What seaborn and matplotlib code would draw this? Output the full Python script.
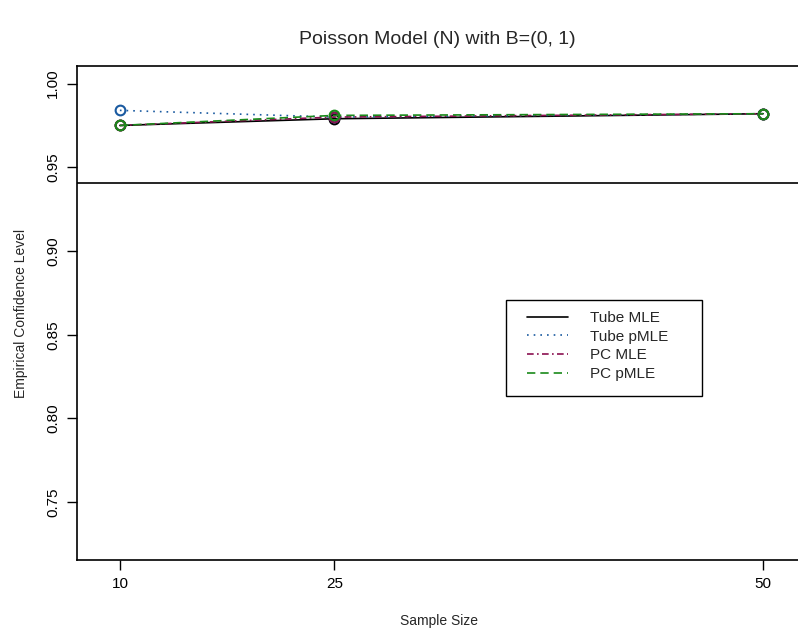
import matplotlib
matplotlib.use("Agg")
import matplotlib.pyplot as plt
from matplotlib.lines import Line2D
from matplotlib.patches import Rectangle
from matplotlib.legend_handler import HandlerLine2D
import seaborn as sns
import pandas as pd

# ---- data ----
sample_sizes = ["10", "25", "50"]
x_positions = [1, 2, 4]
tube_mle = [0.975, 0.979, 0.982]
tube_pmle = [0.984, 0.980, 0.982]
pc_mle = [0.975, 0.980, 0.982]
pc_pmle = [0.975, 0.981, 0.982]
nominal_level = 0.9405
y_ticks = [0.75, 0.80, 0.85, 0.90, 0.95, 1.00]

series = [
    ("Tube MLE", tube_mle, "black", "-"),
    ("Tube pMLE", tube_pmle, "#1a5aa0", (0, (1, 3))),
    ("PC MLE", pc_mle, "#8b1050", (0, (4, 2, 1, 2))),
    ("PC pMLE", pc_pmle, "#1a8a1a", (0, (5, 3))),
]

sns.set_style("ticks")
plt.rcParams["font.family"] = ["Liberation Sans", "DejaVu Sans"]

fig = plt.figure(figsize=(7.98, 6.29), dpi=100)
ax = fig.add_axes([77 / 798, 69 / 629, 723 / 798, 494 / 629])

handles = []
for name, vals, col, ls in series:
    df = pd.DataFrame({"x": x_positions, "y": vals})
    sns.lineplot(data=df, x="x", y="y", ax=ax, color=col, linestyle=ls,
                 linewidth=1.2, marker="o", markersize=7,
                 markerfacecolor="none", markeredgecolor=col,
                 markeredgewidth=1.5)
    handles.append(Line2D([], [], color=col, linestyle=ls, linewidth=1.2,
                          label=name))

ax.axhline(nominal_level, color="black", linewidth=1.2)

ax.set_xlim(0.8, 0.8 + 723 / 214.4)
ax.set_ylim(0.7155, 1.0105)
ax.set_xticks(x_positions)
ax.set_xticklabels(sample_sizes)
ax.set_yticks(y_ticks)
ax.set_yticklabels([f"{v:.2f}" for v in y_ticks], rotation=90, va="center")
ax.tick_params(axis="both", direction="out", length=7, width=1, labelsize=11,
               color="black", labelcolor="black", pad=5)
for s in ax.spines.values():
    s.set_visible(True)
    s.set_color("black")
    s.set_linewidth(1.2)

ax.set_xlabel("Sample Size", fontsize=10, labelpad=17)
ax.set_ylabel("Empirical Confidence Level", fontsize=10, labelpad=13)
fig.text(437 / 798, 1 - 40 / 629, "Poisson Model (N) with B=(0, 1)",
         ha="center", va="center", fontsize=14)

# legend box (R-style, with extra right padding)
box_l, box_t, box_r, box_b = 506, 300, 702, 396
ax.add_patch(Rectangle(((box_l - 77) / 723, (560 - box_b) / 494),
                       (box_r - box_l) / 723, (box_b - box_t) / 494,
                       transform=ax.transAxes, fill=True, facecolor="white",
                       edgecolor="black", linewidth=1.0, zorder=4))
leg = ax.legend(handles=handles, loc="upper left",
                bbox_to_anchor=((box_l - 77) / 723, (560 - box_t) / 494),
                frameon=False, fontsize=11, handlelength=4.0,
                handletextpad=0.78, labelspacing=0.31, borderpad=0.72,
                borderaxespad=0,
                handler_map={Line2D: HandlerLine2D(marker_pad=0.65,
                                                   numpoints=2)})
leg.set_zorder(5)

fig.savefig("out.png", dpi=100)
